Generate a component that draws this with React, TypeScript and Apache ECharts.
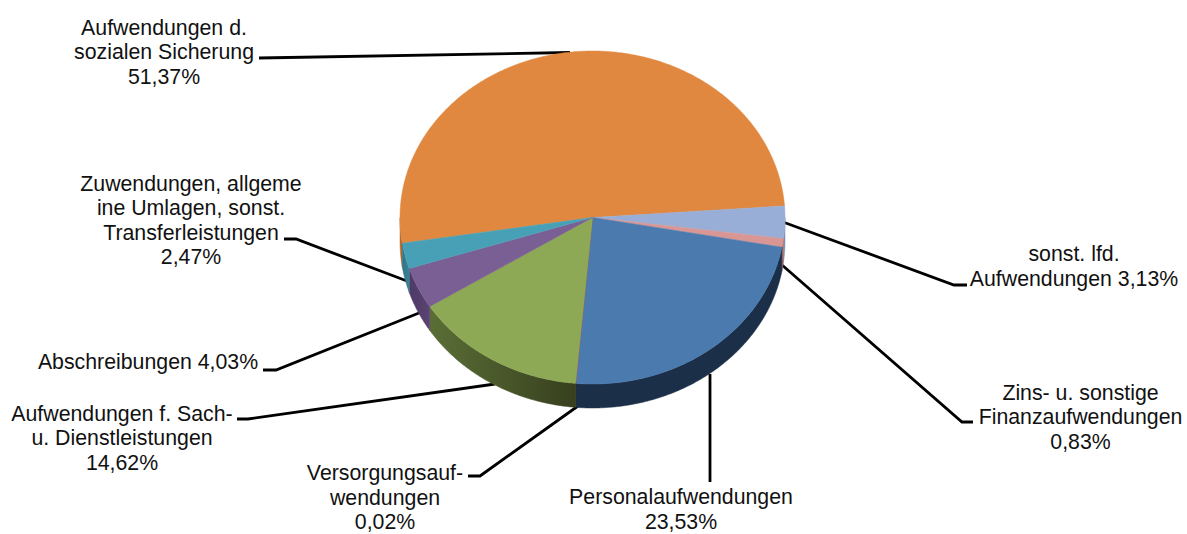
import React, { useEffect, useRef } from "react";
import * as echarts from "echarts";

// Slices, clockwise from the start of the orange slice
const categories = [
  "Aufwendungen d.\nsozialen Sicherung\n51,37%",
  "sonst. lfd.\nAufwendungen 3,13%",
  "Zins- u. sonstige\nFinanzaufwendungen\n0,83%",
  "Personalaufwendungen\n23,53%",
  "Versorgungsauf-\nwendungen\n0,02%",
  "Aufwendungen f. Sach-\nu. Dienstleistungen\n14,62%",
  "Abschreibungen 4,03%",
  "Zuwendungen, allgeme\nine Umlagen, sonst.\nTransferleistungen\n2,47%",
];
const values = [51.37, 3.13, 0.83, 23.53, 0.02, 14.62, 4.03, 2.47];
const topColors = ["#E0883F", "#99AED6", "#D89694", "#4A7AAE", "#B0504C", "#8EA955", "#7A5F94", "#48A0B6"];
const wallColors: (string | [string, string])[] = [
  ["#B8702F", "#A86428"], "#7A8DB0", "#A87070", "#1B2F48", "#5A2A28",
  ["#5A6E36", "#37401E"], ["#4E3A66", "#5A4472"], ["#2F7488", "#3A8294"],
];

// Layout (px)
const CX = 592.5, CY = 217.5, RX = 192.5, RY = 166.5, DEPTH = 24;
const START_DEG = 261.1;
const labelPos: [number, number][] = [
  [164, 52], [1074, 266.5], [1080.5, 417], [681, 509.5], [385, 497.5], [122, 438], [148, 362], [191, 220.5],
];
const leaders: [number, number][][] = [
  [[259, 58], [570, 52.5]],
  [[967, 285], [954, 285], [783, 222]],
  [[973, 422], [962, 422], [782, 265]],
  [[710, 482], [710, 374]],
  [[468, 476], [480, 476], [578, 406]],
  [[237, 419], [248, 419], [495, 384]],
  [[263, 370], [276, 370], [419, 313]],
  [[284, 239], [296, 239], [407, 281]],
];

const pt = (deg: number, dy = 0): [number, number] => {
  const a = (deg * Math.PI) / 180;
  return [CX + RX * Math.sin(a), CY - RY * Math.cos(a) + dy];
};
const arc = (from: number, to: number, dy = 0) => {
  const n = Math.max(2, Math.ceil((to - from) * 2));
  const out: [number, number][] = [];
  for (let i = 0; i <= n; i++) out.push(pt(from + ((to - from) * i) / n, dy));
  return out;
};

const total = values.reduce((a, b) => a + b, 0);
const startOf = (idx: number) =>
  START_DEG + (values.slice(0, idx).reduce((a, b) => a + b, 0) / total) * 360;

const renderItem = (params: any, api: any) => {
  const i = params.dataIndex;
  const from = startOf(i);
  const to = from + (api.value(0) / total) * 360;
  const children: any[] = [];
  // side wall: only the part on the front half of the ellipse
  for (const shift of [0, 360]) {
    const a = Math.max(from - shift, 90);
    const b = Math.min(to - shift, 270);
    if (b > a) {
      const top = arc(a, b);
      const bottom = arc(a, b, DEPTH).reverse();
      const c = wallColors[i];
      const fill = Array.isArray(c)
        ? new echarts.graphic.LinearGradient(0, 0, 1, 0, [
            { offset: 0, color: c[0] },
            { offset: 1, color: c[1] },
          ])
        : c;
      children.push({ type: "polygon", shape: { points: [...top, ...bottom] }, style: { fill, stroke: fill, lineWidth: 0.5 } });
    }
  }
  children.push({
    type: "polygon",
    shape: { points: [[CX, CY], ...arc(from, to)] },
    style: { fill: topColors[i], stroke: topColors[i], lineWidth: 0.5 },
  });
  return { type: "group", children };
};

export default function App() {
  const ref = useRef<HTMLDivElement>(null);
  useEffect(() => {
    document.body.style.margin = "0";
    const chart = echarts.init(ref.current!, undefined, { renderer: "svg" });
    chart.setOption({
      animation: false,
      backgroundColor: "#ffffff",
      series: [
        {
          type: "custom",
          coordinateSystem: "none",
          renderItem,
          data: values.map((v) => [v]),
          z: 5,
          silent: true,
        },
      ],
      graphic: [
        ...leaders.map((points) => ({
          type: "polyline",
          z: 1,
          shape: { points },
          style: { stroke: "#000", lineWidth: 2.8, fill: "none" },
        })),
        ...categories.map((text, i) => ({
          type: "text",
          z: 10,
          x: labelPos[i][0],
          y: labelPos[i][1],
          style: {
            text,
            fill: "#111",
            font: '21.3px "Liberation Sans", Arial, sans-serif',
            lineHeight: 24.5,
            align: "center",
            verticalAlign: "middle",
          },
        })),
      ],
    });
    return () => chart.dispose();
  }, []);
  return <div ref={ref} style={{ width: 1187, height: 534 }} />;
}
